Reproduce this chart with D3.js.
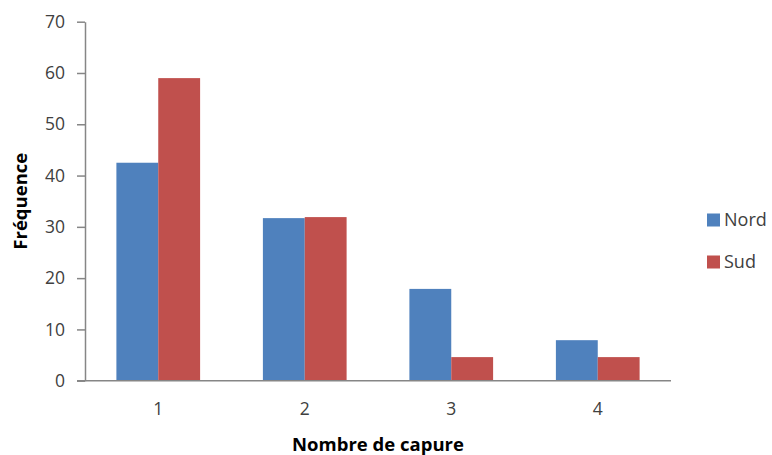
<!DOCTYPE html>
<html><head><meta charset="utf-8">
<script src="https://cdn.jsdelivr.net/npm/d3@7"></script>
<style>body{margin:0;background:#fff}svg{display:block}text{font-family:"Open Sans","Liberation Sans",sans-serif}</style>
</head><body><svg id="c" width="772" height="455"></svg>
<script>
const categories = ["1","2","3","4"];
const seriesNames = ["Nord","Sud"];
const nord = [42.5, 31.7, 17.9, 7.9];
const sud = [59, 31.9, 4.6, 4.6];
const yTicks = [0,10,20,30,40,50,60,70];
const colors = ["#4F81BD","#C0504D"];

const svg = d3.select("#c");
const mL = 85, mR = 671, mT = 21.7, mB = 380.7;
const x = d3.scaleBand().domain(categories).range([mL,mR]).paddingInner(1.5/3.5).paddingOuter(0.75/3.5);
const xs = d3.scaleBand().domain(seriesNames).range([0,x.bandwidth()]);
const y = d3.scaleLinear().domain([0,70]).range([mB,mT]);
const data = categories.map((c,i)=>({c, vals:[nord[i],sud[i]]}));

const g = svg.append("g");
data.forEach(d=>{
  d.vals.forEach((v,j)=>{
    g.append("rect").attr("x",x(d.c)+xs(seriesNames[j])).attr("width",xs.bandwidth())
     .attr("y",y(v)).attr("height",y(0)-y(v)).attr("fill",colors[j]);
  });
});

// y axis
const ya = svg.append("g").attr("transform",`translate(${mL},0)`)
  .call(d3.axisLeft(y).tickValues(yTicks).tickSize(8).tickPadding(12).tickSizeOuter(0));
ya.select(".domain").attr("stroke","#868686").attr("stroke-width",1.5);
ya.selectAll(".tick line").attr("stroke","#868686").attr("stroke-width",1.5);
ya.selectAll(".tick text").attr("font-size",17.5).attr("fill","#404040");

// x axis
const xa = svg.append("g").attr("transform",`translate(0,${mB})`)
  .call(d3.axisBottom(x).tickSize(0).tickPadding(22).tickSizeOuter(0));
xa.select(".domain").attr("stroke","#868686").attr("stroke-width",1.5).attr("d",`M${mL-8},0H${mR}`);
xa.selectAll(".tick text").attr("font-size",17.5).attr("fill","#404040");

svg.append("text").attr("x",(mL+mR)/2).attr("y",451).attr("text-anchor","middle")
  .attr("font-size",18.5).attr("font-weight","bold").attr("fill","#000").text("Nombre de capure");
svg.append("text").attr("transform",`translate(27,${(mT+mB)/2}) rotate(-90)`).attr("text-anchor","middle")
  .attr("font-size",18.5).attr("font-weight","bold").attr("fill","#000").text("Fréquence");

const lg = svg.append("g");
seriesNames.forEach((s,i)=>{
  const cy = 220 + i*42;
  lg.append("rect").attr("x",707).attr("y",cy-6.5).attr("width",13).attr("height",13).attr("fill",colors[i]);
  lg.append("text").attr("x",724).attr("y",cy).attr("dy","0.35em").attr("font-size",18).attr("fill","#404040").text(s);
});
</script></body></html>
